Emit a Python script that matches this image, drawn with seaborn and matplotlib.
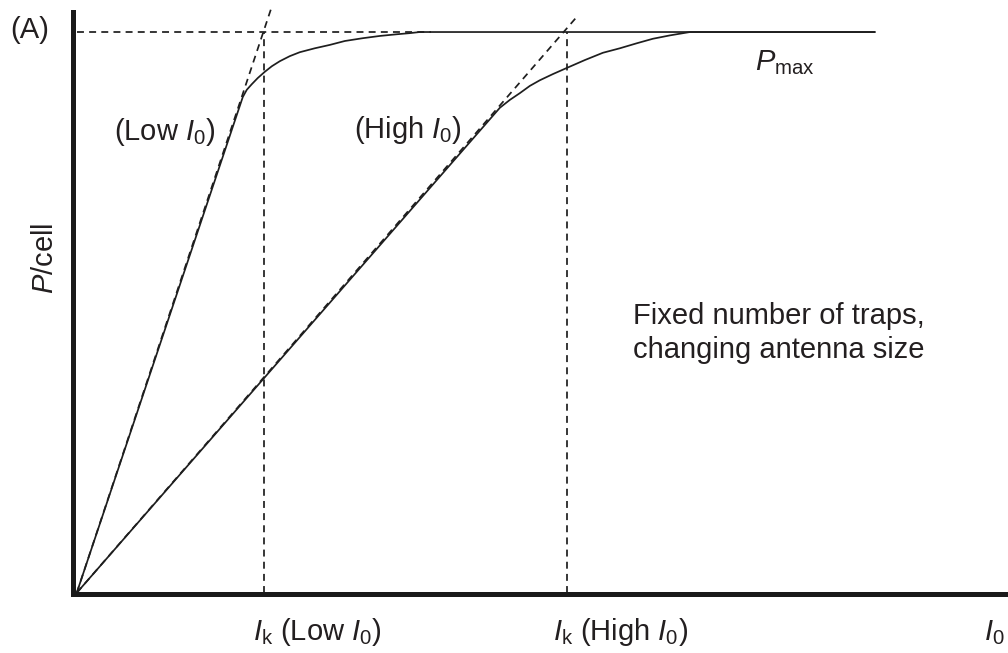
import matplotlib
matplotlib.use("Agg")
import matplotlib.pyplot as plt
import seaborn as sns

# light response curves, I0 in arbitrary units, P normalised to Pmax = 1
low_I = [0, 1.783, 1.826, 1.880, 1.944, 2.019, 2.095, 2.181, 2.288, 2.395,
         2.556, 2.717, 2.879, 3.072, 3.255, 3.438, 3.577, 3.684, 8.57]
low_P = [0, 0.884, 0.897, 0.907, 0.918, 0.929, 0.939, 0.948, 0.957, 0.964,
         0.971, 0.977, 0.984, 0.989, 0.993, 0.996, 0.998, 1.0, 1.0]

high_I = [0, 4.544, 4.651, 4.758, 4.866, 4.973, 5.113, 5.263, 5.456, 5.650,
          5.832, 6.015, 6.187, 6.370, 6.477, 6.585, 8.57]
high_P = [0, 0.865, 0.879, 0.891, 0.904, 0.914, 0.925, 0.936, 0.950, 0.963,
          0.971, 0.980, 0.988, 0.994, 0.997, 1.0, 1.0]

# initial slopes extended (dashed)
low_tangent_I = [0, 2.09]
low_tangent_P = [0, 1.043]
high_tangent_I = [0, 5.38]
high_tangent_P = [0, 1.029]

# saturation parameters
ik_low = 2.01
ik_high = 5.26
pmax = 1.0
pmax_dash_end = 3.80

sns.set_theme(style="white")
plt.rcParams["font.family"] = ["Liberation Sans", "DejaVu Sans"]
plt.rcParams["mathtext.fontset"] = "custom"
plt.rcParams["mathtext.rm"] = "Liberation Sans"
plt.rcParams["mathtext.it"] = "Liberation Sans:italic"

txt = "#231f20"
fs = 21

fig = plt.figure(figsize=(10.08, 6.53), dpi=100)
ax = fig.add_axes([73 / 1008, 59 / 653, 935 / 1008, 582 / 653])

dash = (0, (4, 3))
lw = 1.25
ink = "#1e1e1e"

# dashed guide lines
sns.lineplot(x=[0, pmax_dash_end], y=[pmax, pmax], sort=False, estimator=None,
             color=ink, lw=lw, linestyle=dash, ax=ax)
sns.lineplot(x=[ik_low, ik_low], y=[0, pmax], sort=False, estimator=None,
             color=ink, lw=lw, linestyle=dash, ax=ax)
sns.lineplot(x=[ik_high, ik_high], y=[0, pmax], sort=False, estimator=None,
             color=ink, lw=lw, linestyle=dash, ax=ax)
sns.lineplot(x=low_tangent_I, y=low_tangent_P, sort=False, estimator=None,
             color=ink, lw=lw, linestyle=dash, ax=ax)
sns.lineplot(x=high_tangent_I, y=high_tangent_P, sort=False, estimator=None,
             color=ink, lw=lw, linestyle=dash, ax=ax)

# response curves
sns.lineplot(x=low_I, y=low_P, sort=False, estimator=None,
             color=ink, lw=lw, ax=ax)
sns.lineplot(x=high_I, y=high_P, sort=False, estimator=None,
             color=ink, lw=lw, ax=ax)

for line in ax.lines:
    line.set_clip_on(False)
    line.set_solid_joinstyle("round")

ax.set_xlim(-0.04, 10.0)
ax.set_ylim(-0.002, 1.0357)
ax.set_xticks([])
ax.set_yticks([])
sns.despine(ax=ax)
for side in ["left", "bottom"]:
    ax.spines[side].set_linewidth(3.6)
    ax.spines[side].set_color("#1a1a1a")
    ax.spines[side].set_capstyle("projecting")

# annotations
ax.text(0.945, 0.822, "(Low $I_0$)", ha="center", va="center", fontsize=fs, color=txt)
ax.text(3.56, 0.825, "(High $I_0$)", ha="center", va="center", fontsize=fs, color=txt)
ax.text(7.28, 0.946, "$P_\\mathrm{max}$", ha="left", va="center", fontsize=fs, color=txt)
ax.text(5.97, 0.463, "Fixed number of traps,\nchanging antenna size",
        ha="left", va="center", fontsize=fs, color=txt, linespacing=1.25)

ax.text(1.89, -0.07, "$I_\\mathrm{k}$ (Low $I_0$)", ha="left", va="center",
        fontsize=fs, color=txt, clip_on=False)
ax.text(5.11, -0.07, "$I_\\mathrm{k}$ (High $I_0$)", ha="left", va="center",
        fontsize=fs, color=txt, clip_on=False)
ax.text(9.74, -0.07, "$I_0$", ha="left", va="center", fontsize=fs, color=txt,
        clip_on=False)

fig.text(10 / 1008, 1 - 30 / 653, "(A)", ha="left", va="center", fontsize=fs, color=txt)
fig.text(45 / 1008, 1 - 258 / 653, "$P$/cell", ha="center", va="center",
         rotation=90, fontsize=fs, color=txt)

fig.savefig("out.png", dpi=100)
